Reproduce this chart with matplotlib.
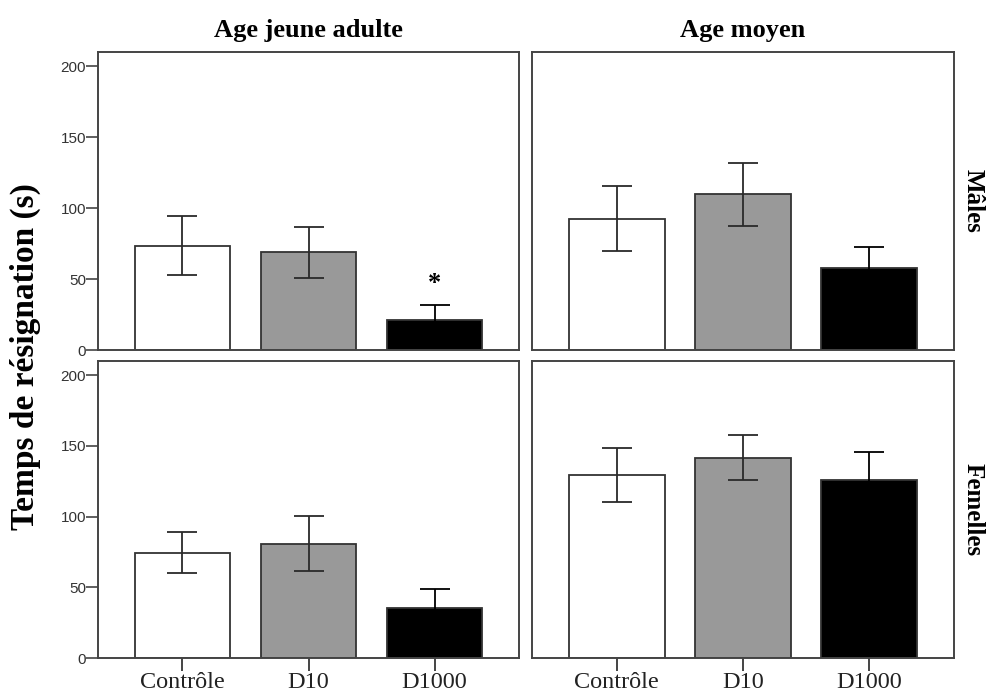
import numpy as np
import matplotlib
matplotlib.use("Agg")
import matplotlib.pyplot as plt

# Temps de résignation (s) par groupe : moyenne et erreur
groups = ["Contrôle", "D10", "D1000"]
ages = ["Age jeune adulte", "Age moyen"]
sexes = ["Mâles", "Femelles"]

males_young = [73.6, 68.9, 21.2]
males_young_err = [21.0, 17.9, 10.6]
males_mid = [92.5, 109.6, 58.1]
males_mid_err = [22.8, 22.3, 14.4]
females_young = [74.5, 80.7, 35.7]
females_young_err = [14.5, 19.5, 13.0]
females_mid = [129.4, 141.6, 125.9]
females_mid_err = [18.8, 15.8, 19.5]

colors = ["white", "#999999", "black"]
err_colors = ["#2a2a2a", "#2a2a2a", "black"]
edge = "#333333"

fig = plt.figure(figsize=(9.88, 7.0), dpi=100)
pos = {
    (0, 0): [0.0992, 0.500, 0.4261, 0.4257],
    (0, 1): [0.5385, 0.500, 0.4271, 0.4257],
    (1, 0): [0.0992, 0.060, 0.4261, 0.4243],
    (1, 1): [0.5385, 0.060, 0.4271, 0.4243],
}
data = {
    (0, 0): (males_young, males_young_err),
    (0, 1): (males_mid, males_mid_err),
    (1, 0): (females_young, females_young_err),
    (1, 1): (females_mid, females_mid_err),
}

x = np.arange(len(groups))
axes = {}
for (r, c), rect in pos.items():
    ax = fig.add_axes(rect)
    axes[(r, c)] = ax
    vals, errs = data[(r, c)]
    ax.bar(x, vals, width=0.76, color=colors, edgecolor=edge, linewidth=1.3, zorder=2)
    for i in range(len(groups)):
        ax.errorbar(x[i], vals[i], yerr=errs[i], fmt="none", ecolor=err_colors[i],
                    elinewidth=1.3, capsize=11, capthick=1.3, zorder=3)
    ax.set_xlim(-0.67, 2.67)
    ax.set_ylim(0, 210)
    for s in ax.spines.values():
        s.set_color("#444444")
        s.set_linewidth(1.4)
    if c == 0:
        ax.set_yticks([0, 50, 100, 150, 200])
        ax.tick_params(axis="y", direction="out", length=8.5, width=1.2, color="#444444",
                       labelsize=11, labelcolor="#333333", pad=0)
        for t in ax.get_yticklabels():
            t.set_family("Liberation Sans")
    else:
        ax.set_yticks([])
    if r == 1:
        ax.set_xticks(x)
        ax.set_xticklabels(groups, family="Liberation Serif", fontsize=17.5, color="#222222")
        ax.tick_params(axis="x", direction="out", length=9, width=1.4, color="#444444", pad=1)
    else:
        ax.set_xticks([])
    if r == 0:
        ax.set_title(ages[c], family="Liberation Serif", fontweight="bold", fontsize=19, pad=11)
    if c == 1:
        ax.text(1.045, 0.5, sexes[r], transform=ax.transAxes, rotation=-90,
                family="Liberation Serif", fontsize=18, fontweight="bold",
                va="center", ha="center")

# significance marker
axes[(0, 0)].text(x[2], 47, "*", ha="center", va="center", fontsize=19, fontweight="bold",
                  family="Liberation Serif")

fig.text(0.026, 0.49, "Temps de résignation (s)", rotation=90, family="Liberation Serif",
         fontweight="bold", fontsize=24, va="center", ha="center")

fig.savefig("out.png", dpi=100)
